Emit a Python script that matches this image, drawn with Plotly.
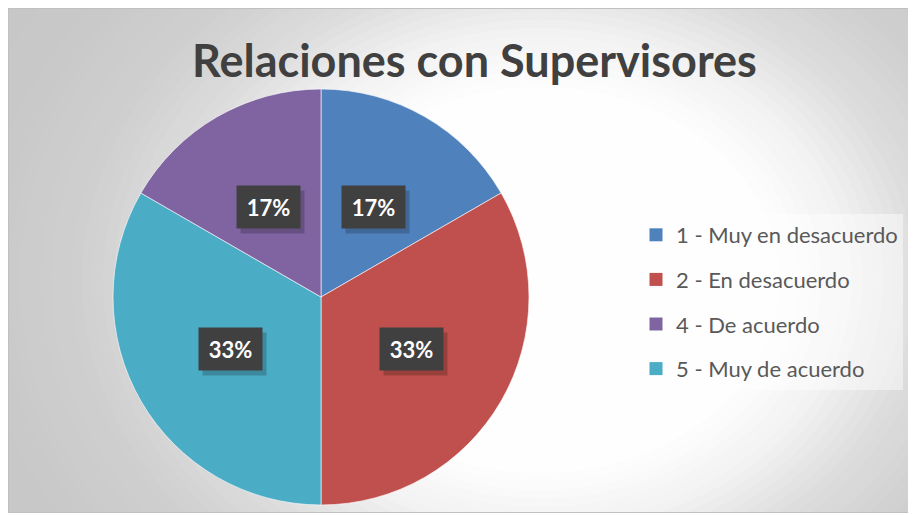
import math
import plotly.graph_objects as go

# ---------------- data ----------------
title_text = "Relaciones con Supervisores"
# slices in drawing order (clockwise from 12 o'clock)
pie_labels = ["1 - Muy en desacuerdo", "2 - En desacuerdo", "5 - Muy de acuerdo", "4 - De acuerdo"]
pie_values = [1, 2, 2, 1]
pie_colors = ["#4F81BD", "#C0504D", "#4BACC6", "#8064A2"]
# legend order as shown in the reference
legend_labels = ["1 - Muy en desacuerdo", "2 - En desacuerdo", "4 - De acuerdo", "5 - Muy de acuerdo"]
legend_colors = ["#4F81BD", "#C0504D", "#8064A2", "#4BACC6"]

# ---------------- layout helpers ----------------
# The page body has an 8px margin, which gives the white border round the chart frame.
OFF = 8
W, H = 907, 505
def X(px):
    return (px - OFF) / W
def Y(py):
    return 1 - (py - OFF) / H

CX, CY, R = 321, 297, 208  # pie centre and radius in window pixels

fig = go.Figure()

fig.add_trace(go.Pie(
    labels=pie_labels, values=pie_values, sort=False, direction="clockwise", rotation=0,
    marker=dict(colors=pie_colors, line=dict(color="rgba(255,255,255,0.6)", width=1)),
    textinfo="none", hoverinfo="label+percent", showlegend=False,
    domain=dict(x=[X(CX - R), X(CX + R)], y=[Y(CY + R), Y(CY - R)]),
))

for lab, col in zip(legend_labels, legend_colors):
    fig.add_trace(go.Scatter(
        x=[None], y=[None], mode="markers", name=lab, legendgroup=lab,
        marker=dict(symbol="square", size=13, color=col),
    ))

# ---------------- background gradient (concentric ellipses) ----------------
GX, GY, GA, GB = 540, 280, 520, 420
stops = [(0.0, 255), (0.45, 255), (0.6, 242), (0.75, 220), (0.9, 207), (1.1, 200), (1.6, 196)]
def gray(d):
    for (d0, c0), (d1, c1) in zip(stops[:-1], stops[1:]):
        if d <= d1:
            t = (d - d0) / (d1 - d0)
            return c0 + (c1 - c0) * t
    return stops[-1][1]

shapes = []
d = 1.6
while d >= 0.44:
    g = int(round(gray(d)))
    shapes.append(dict(
        type="circle", xref="paper", yref="paper", layer="below",
        x0=X(GX - GA * d), x1=X(GX + GA * d), y0=Y(GY + GB * d), y1=Y(GY - GB * d),
        fillcolor=f"rgb({g},{g},{g})", line=dict(width=0),
    ))
    d -= 0.02

# chart frame
shapes.append(dict(type="rect", xref="paper", yref="paper", layer="below",
                   x0=0.5 / W, x1=1 - 0.5 / W, y0=0.5 / H, y1=1 - 0.5 / H,
                   fillcolor="rgba(0,0,0,0)", line=dict(color="#c0c0c0", width=1)))

# ---------------- percentage labels ----------------
annotations = []
total = sum(pie_values)
cum = 0
for v in pie_values:
    mid = (cum + v / 2) / total * 2 * math.pi
    cum += v
    px = CX + 0.5 * R * math.sin(mid)
    py = CY - 0.5 * R * math.cos(mid)
    txt = f"{round(v / total * 100)}%"
    # soft shadow box
    annotations.append(dict(
        x=X(px + 4), y=Y(py + 5), xref="paper", yref="paper", showarrow=False,
        xanchor="center", yanchor="middle",
        text=" ", font=dict(family="Lato", size=22, color="rgba(0,0,0,0)"),
        bgcolor="rgba(0,0,0,0.20)", width=59, height=38, borderpad=2,
    ))
    annotations.append(dict(
        x=X(px), y=Y(py), xref="paper", yref="paper", showarrow=False,
        xanchor="center", yanchor="middle",
        text=f"<b>{txt}</b>", font=dict(family="Lato", size=22, color="white"),
        bgcolor="#404040", width=59, height=38, borderpad=2,
    ))

annotations.append(dict(
    x=X(474), y=Y(60), xref="paper", yref="paper", showarrow=False,
    xanchor="center", yanchor="middle",
    text=f"<b>{title_text}</b>", font=dict(family="Lato", size=45, color="#404040"),
))

fig.update_layout(
    width=W, height=H, margin=dict(l=0, r=0, t=0, b=0),
    paper_bgcolor="white", plot_bgcolor="rgba(0,0,0,0)",
    xaxis=dict(visible=False), yaxis=dict(visible=False),
    shapes=shapes, annotations=annotations,
    legend=dict(
        x=X(636), y=Y(214), xanchor="left", yanchor="top",
        bgcolor="rgba(255,255,255,0.45)", borderwidth=0,
        font=dict(family="Lato", size=22, color="#595959"),
        tracegroupgap=13, traceorder="grouped",
    ),
    showlegend=True,
)

fig.write_html("out.html")
